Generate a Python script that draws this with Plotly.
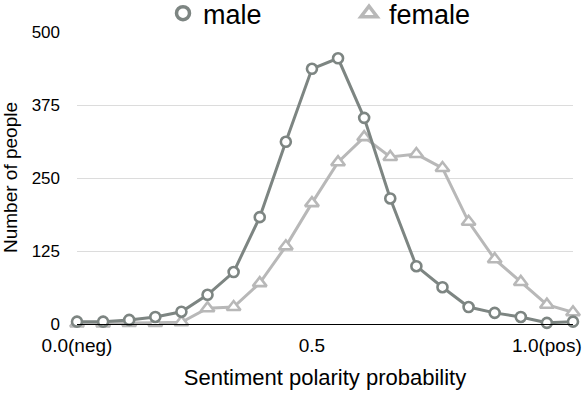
import plotly.graph_objects as go

# bins of sentiment polarity probability (20 bins), only some labelled
bins = list(range(20))
tick_pos = [0, 9, 18]
tick_labels = ["0.0(neg)", "0.5", "1.0(pos)"]

male = [4, 4, 7, 12, 21, 50, 89, 183, 312, 437, 455, 353, 215, 99, 63, 29, 19, 12, 2, 4]
female = [1, 1, 2, 2, 3, 27, 29, 70, 133, 207, 277, 320, 286, 291, 267, 175, 111, 72, 33, 20]

MALE_COLOR = "#7d8582"
FEMALE_COLOR = "#b8b8b8"
FONT = "Liberation Sans, Arial, Helvetica, sans-serif"

male_marker = dict(symbol="circle", size=10, color="white",
                   line=dict(color=MALE_COLOR, width=2.6))
female_marker = dict(symbol="triangle-up", size=12, color="white",
                     line=dict(color=FEMALE_COLOR, width=2.6))

fig = go.Figure()

# female first so male line sits on top
fig.add_trace(go.Scatter(
    x=bins, y=female, name="female", mode="lines+markers",
    line=dict(color=FEMALE_COLOR, width=3), marker=female_marker,
    cliponaxis=False, showlegend=False
))
fig.add_trace(go.Scatter(
    x=bins, y=male, name="male", mode="lines+markers",
    line=dict(color=MALE_COLOR, width=3), marker=male_marker,
    cliponaxis=False, showlegend=False
))

# legend entries (markers only, like the reference)
fig.add_trace(go.Scatter(x=[None], y=[None], name="male", mode="markers",
                         marker=dict(male_marker, size=13, line=dict(color=MALE_COLOR, width=3.5)),
                         showlegend=True))
fig.add_trace(go.Scatter(x=[None], y=[None], name="female", mode="markers",
                         marker=dict(female_marker, size=14, line=dict(color=FEMALE_COLOR, width=3.5)),
                         showlegend=True))

fig.update_layout(
    width=584, height=394,
    margin=dict(l=77, r=11, t=32, b=70, autoexpand=False),
    plot_bgcolor="white", paper_bgcolor="white",
    font=dict(family=FONT, color="black", size=17),
    legend=dict(orientation="h", xref="container", yref="paper",
                x=163 / 584, xanchor="left", y=1.147, yanchor="top",
                font=dict(size=27), entrywidth=141, entrywidthmode="pixels",
                bgcolor="rgba(0,0,0,0)"),
    showlegend=True,
)

fig.update_xaxes(
    range=[0, 19], tickvals=tick_pos, ticktext=tick_labels,
    showgrid=False, zeroline=False, automargin=False,
    showline=True, linecolor="black", linewidth=1,
    ticks="", tickfont=dict(size=19), ticklabelstandoff=4,
    title=dict(text="Sentiment polarity probability", font=dict(size=22), standoff=14),
)

fig.update_yaxes(
    range=[0, 500], tickvals=[0, 125, 250, 375, 500],
    showgrid=True, gridcolor="#dcdcdc", gridwidth=1,
    zeroline=False, showline=False, automargin=False,
    tickfont=dict(size=17), ticks="", ticklabelstandoff=16,
)

# y title as a rotated annotation (axis title placement was flaky here)
fig.add_annotation(text="Number of people", textangle=-90,
                   xref="paper", yref="paper", x=-0.135, y=0.5,
                   xanchor="center", yanchor="middle", showarrow=False,
                   font=dict(size=19))

# page body has a default 8px margin; drop it so the chart sits at the corner
fig.write_html("out.html", config={"displayModeBar": False},
               post_script="document.body.style.margin='0';")
